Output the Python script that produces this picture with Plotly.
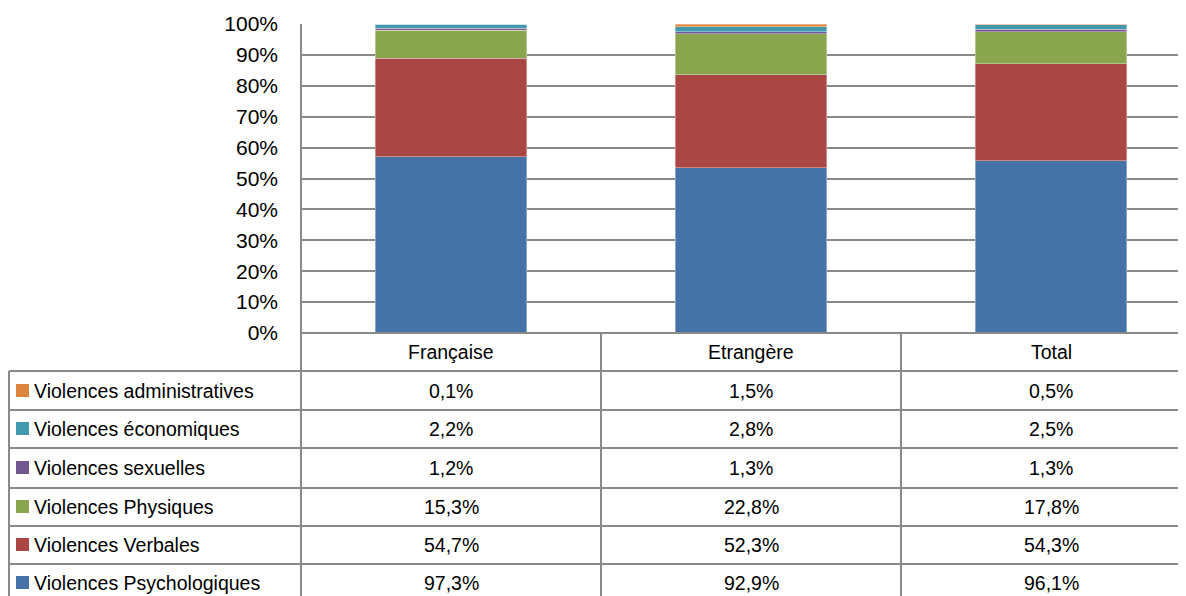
import plotly.graph_objects as go

categories = ["Française", "Etrangère", "Total"]
series_names = [
    "Violences Psychologiques",
    "Violences Verbales",
    "Violences Physiques",
    "Violences sexuelles",
    "Violences économiques",
    "Violences administratives",
]
psychologiques = [97.3, 92.9, 96.1]
verbales = [54.7, 52.3, 54.3]
physiques = [15.3, 22.8, 17.8]
sexuelles = [1.2, 1.3, 1.3]
economiques = [2.2, 2.8, 2.5]
administratives = [0.1, 1.5, 0.5]
series_values = [psychologiques, verbales, physiques, sexuelles, economiques, administratives]
colors = ["#4572A7", "#AA4643", "#89A54E", "#71588F", "#4198AF", "#DB843D"]
tick_vals = list(range(0, 101, 10))
tick_text = [f"{v}%" for v in tick_vals]

OFF = 8  # page offset of the figure in the screenshot
SCREEN_W, SCREEN_H = 1186, 596
W, H = SCREEN_W - OFF, SCREEN_H - OFF
L, T, B = 301, 24, 333  # plot area pixel bounds (screen)
PW = W - (L - OFF)
PH = B - T
cat_px = 300.0

def px(X):
    return (X - L) / PW

def py(Y):
    return (B - Y) / PH

FONT = "Liberation Sans"
FS = 19.5
LINE = "#8a8a8a"

fig = go.Figure()
for name, vals, col in zip(series_names, series_values, colors):
    fig.add_trace(go.Bar(
        x=categories, y=vals, name=name,
        marker=dict(color=col, line=dict(width=0.6, color="rgba(255,255,255,0.6)")),
        width=0.505,
    ))

shapes = []
annotations = []

row_lines = [371, 410, 448, 488, 526, 564]
shapes.append(dict(type="line", xref="paper", yref="paper", x0=px(L), x1=1.01, y0=py(B), y1=py(B),
                   line=dict(color=LINE, width=2)))
for yl in row_lines:
    shapes.append(dict(type="line", xref="paper", yref="paper", x0=px(9), x1=1.01, y0=py(yl), y1=py(yl),
                       line=dict(color=LINE, width=2)))
shapes.append(dict(type="line", xref="paper", yref="paper", x0=px(9), x1=px(9), y0=py(371), y1=py(SCREEN_H + 10),
                   line=dict(color=LINE, width=2)))
shapes.append(dict(type="line", xref="paper", yref="paper", x0=px(L), x1=px(L), y0=py(T), y1=py(SCREEN_H + 10),
                   line=dict(color=LINE, width=2)))
for i in range(len(categories) - 1):
    shapes.append(dict(type="line", xref="x", yref="paper", x0=i + 0.5, x1=i + 0.5, y0=py(B), y1=py(SCREEN_H + 10),
                       line=dict(color=LINE, width=2)))

for i, c in enumerate(categories):
    annotations.append(dict(x=i, y=py(352), xref="x", yref="paper", text=c, showarrow=False,
                            font=dict(family=FONT, size=FS, color="black"), xanchor="center", yanchor="middle"))

row_centers = [391, 429, 468, 507, 545, 583]
order = list(range(len(series_names)))[::-1]
for rc, si in zip(row_centers, order):
    shapes.append(dict(type="rect", xref="paper", yref="paper", x0=px(16), x1=px(29),
                       y0=py(rc - 7), y1=py(rc + 6), fillcolor=colors[si], line=dict(width=0)))
    annotations.append(dict(x=px(32), y=py(rc), xref="paper", yref="paper", text=series_names[si],
                            showarrow=False, font=dict(family=FONT, size=FS, color="black"),
                            xanchor="left", yanchor="middle"))
    for i, v in enumerate(series_values[si]):
        annotations.append(dict(x=i, y=py(rc), xref="x", yref="paper",
                                text=f"{v:.1f}%".replace(".", ","), showarrow=False,
                                font=dict(family=FONT, size=FS, color="black"),
                                xanchor="center", yanchor="middle"))

fig.update_layout(
    width=W, height=H,
    margin=dict(l=L - OFF, r=0, t=T - OFF, b=H - (B - OFF), pad=0),
    barmode="stack", barnorm="percent",
    plot_bgcolor="white", paper_bgcolor="white",
    showlegend=False,
    shapes=shapes, annotations=annotations,
    xaxis=dict(range=[-0.5, -0.5 + PW / cat_px], showticklabels=False, showgrid=False, zeroline=False,
               showline=False, ticks="", fixedrange=True),
    yaxis=dict(range=[0, 100], tickvals=tick_vals, ticktext=tick_text, showgrid=True,
               gridcolor=LINE, gridwidth=1.5, zeroline=False, showline=False, ticks="",
               ticklabelstandoff=22, automargin=False,
               tickfont=dict(family=FONT, size=21, color="black")),
    font=dict(family=FONT, size=FS, color="black"),
)

fig.write_html("out.html")
